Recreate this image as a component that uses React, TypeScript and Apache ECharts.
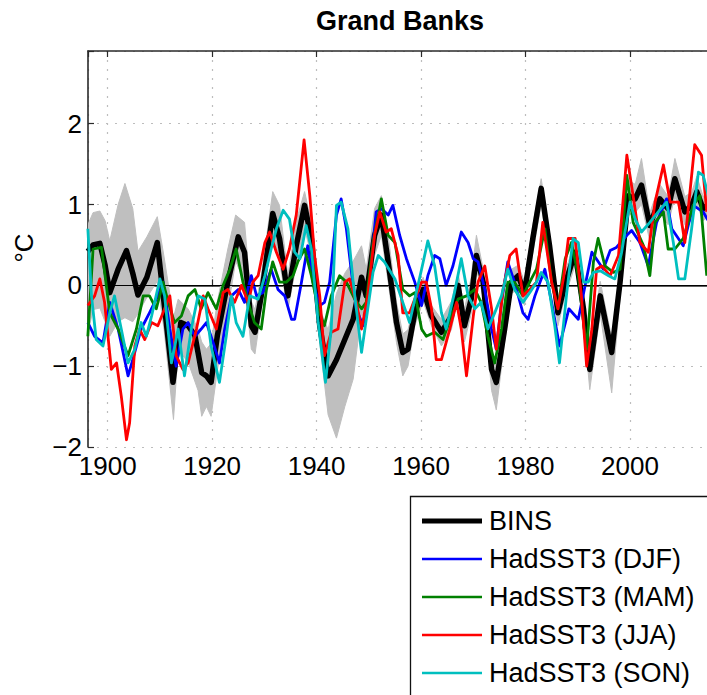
import { useEffect, useRef } from 'react';
import * as echarts from 'echarts';

// BINS reconstruction (annual), [year, anomaly °C]
const bins: [number, number][] = [
  [1896.2, 0.42], [1897.2, 0.5], [1898.5, 0.52], [1899.5, 0.25], [1900.4, -0.09], [1902.0, 0.2],
  [1903.6, 0.43], [1904.8, 0.15], [1905.8, -0.12], [1907.5, 0.1], [1909.5, 0.53], [1912.5, -1.2],
  [1914.0, -0.46], [1915.4, -0.5], [1916.7, -0.62], [1918.0, -1.08], [1918.9, -1.12], [1919.8, -1.2],
  [1921.0, -0.62], [1923.0, 0.04], [1925.0, 0.6], [1926.2, 0.41], [1927.5, -0.5], [1928.2, -0.58],
  [1929.4, -0.13], [1931.6, 0.89], [1932.9, 0.58], [1934.5, -0.13], [1936.1, 0.49], [1937.7, 0.99],
  [1939.0, 0.58], [1940.6, -0.5], [1942.2, -1.12], [1943.8, -0.92], [1945.4, -0.67], [1947.0, -0.42],
  [1948.6, 0.1], [1949.5, -0.13], [1951.1, 0.62], [1952.4, 0.87], [1953.7, 0.29], [1955.3, -0.46],
  [1956.5, -0.83], [1957.5, -0.79], [1958.8, -0.34], [1960.4, -0.05], [1962.0, -0.38], [1963.9, -0.58],
  [1965.8, -0.38], [1967.1, 0.0], [1968.3, -0.5], [1969.6, -0.17], [1970.6, 0.37], [1971.9, 0.04],
  [1973.5, -1.04], [1974.4, -1.2], [1976.0, -0.54], [1977.3, 0.04], [1978.6, 0.12], [1979.8, -0.09],
  [1981.4, 0.58], [1983.0, 1.2], [1984.6, 0.49], [1986.2, -0.34], [1987.5, 0.0], [1989.5, 0.41],
  [1991.1, -0.29], [1992.3, -1.04], [1994.3, -0.13], [1996.5, -0.83], [1998.1, 0.04], [1999.7, 1.11],
  [2001.0, 1.07], [2002.2, 1.24], [2003.8, 0.74], [2005.7, 1.07], [2007.3, 0.95], [2008.6, 1.32],
  [2010.5, 0.91], [2011.8, 0.99], [2012.8, 1.16], [2014.0, 0.95], [2015.0, 1.0],
];

// BINS uncertainty envelope
const bandYears = [
  1896.2, 1897.2, 1898.5, 1899.5, 1900.4, 1902.0, 1903.3, 1904.8, 1905.8, 1907.5, 1909.5, 1910.8,
  1912.6, 1913.5, 1915.4, 1917.3, 1918.0, 1918.9, 1919.8, 1921.0, 1923.0, 1924.5, 1926.2, 1927.5,
  1928.2, 1929.4, 1931.6, 1932.9, 1934.5, 1936.1, 1937.7, 1939.0, 1940.6, 1942.2, 1943.8, 1945.4,
  1947.0, 1948.6, 1949.5, 1951.1, 1952.4, 1953.7, 1955.3, 1956.5, 1957.5, 1958.8, 1960.4, 1962.0,
  1963.9, 1965.8, 1967.1, 1968.3, 1969.6, 1970.6, 1971.9, 1973.5, 1974.4, 1976.0, 1977.3, 1978.6,
  1979.8, 1981.4, 1983.0, 1984.6, 1986.2, 1987.5, 1989.5, 1991.1, 1992.3, 1994.3, 1996.5, 1998.1,
  1999.7, 2001.0, 2002.2, 2003.8, 2005.7, 2007.3, 2008.6, 2010.5, 2011.8, 2012.8, 2014.0, 2015.0,
];
const bandLow = [
  -0.6, -0.3, -0.28, -0.45, -0.63, -0.45, -0.4, -0.45, -0.35, -0.15, 0.05, -0.55,
  -1.66, -0.8, -0.95, -1.3, -1.62, -1.5, -1.62, -1.05, -0.3, 0.3, 0.04, -0.79,
  -0.85, -0.3, 0.62, 0.29, -0.3, 0.25, 0.7, 0.37, -0.71, -1.6, -1.89, -1.5,
  -1.16, -0.34, -0.46, 0.37, 0.62, 0.04, -0.71, -1.12, -1.0, -0.5, -0.2, -0.5,
  -0.75, -0.55, -0.15, -0.7, -0.35, 0.2, -0.15, -1.3, -1.54, -0.7, -0.1, -0.05,
  -0.25, 0.4, 1.0, 0.3, -0.5, -0.15, 0.25, -0.45, -1.29, -0.35, -1.33, -0.15,
  0.95, 0.9, 1.0, 0.55, 0.9, 0.75, 1.1, 0.75, 0.8, 1.0, 0.8, 0.85,
];
const bandHigh = [
  0.75, 0.9, 0.92, 0.8, 0.55, 1.0, 1.26, 0.95, 0.42, 0.6, 0.85, 0.35,
  -0.4, -0.17, -0.29, -0.54, -0.7, -0.79, -0.72, -0.2, 0.45, 0.87, 0.78, -0.2,
  -0.3, 0.12, 1.16, 0.99, 0.12, 0.8, 1.16, 0.78, -0.29, -0.55, -0.1, 0.15,
  0.3, 0.49, 0.2, 0.95, 1.11, 0.62, -0.21, -0.6, -0.55, -0.2, 0.1, -0.25,
  -0.42, -0.2, 0.15, -0.3, 0.1, 0.62, 0.2, -0.85, -1.0, -0.4, 0.2, 0.25,
  0.05, 0.75, 1.32, 0.65, -0.2, 0.15, 0.55, -0.15, -0.85, 0.05, -0.65, 0.2,
  1.3, 1.25, 1.57, 0.9, 1.25, 1.1, 1.57, 1.1, 1.15, 1.35, 1.1, 1.15,
];

// HadSST3 seasonal means, [year, anomaly °C]
const djf: [number, number][] = [
  [1896.2, -0.46], [1897.5, -0.63], [1899.1, -0.71], [1900.4, -0.21], [1902.0, -0.54], [1903.9, -1.12],
  [1904.8, -0.92], [1906.4, -0.54], [1908.0, -0.34], [1909.6, -0.13], [1910.6, 0.04], [1911.9, -0.54],
  [1913.1, -1.0], [1914.4, -0.54], [1915.4, -0.46], [1916.7, -0.63], [1917.9, -0.54], [1918.9, -0.46],
  [1920.2, -0.71], [1921.4, -0.96], [1922.4, -0.54], [1923.7, -0.13], [1925.0, -0.05], [1926.2, -0.21],
  [1927.5, 0.12], [1928.5, -0.13], [1929.7, -0.09], [1931.3, 0.2], [1932.6, -0.05], [1933.9, -0.13],
  [1935.2, -0.42], [1935.8, -0.42], [1937.1, 0.04], [1938.3, 0.49], [1939.3, 0.04], [1940.6, -0.25],
  [1941.5, -0.21], [1942.5, 0.04], [1943.8, 0.87], [1944.7, 1.07], [1945.7, 0.7], [1946.6, 0.2],
  [1947.6, -0.29], [1948.9, -0.5], [1949.8, -0.13], [1951.4, 0.91], [1952.4, 0.95], [1953.7, 0.87],
  [1954.6, 0.99], [1955.9, 0.62], [1957.2, 0.33], [1958.8, 0.04], [1960.1, -0.25], [1961.3, 0.12],
  [1962.6, 0.37], [1963.6, 0.33], [1964.8, 0.0], [1966.1, 0.24], [1967.7, 0.66], [1969.0, 0.53],
  [1970.0, 0.33], [1970.9, 0.29], [1972.2, -0.05], [1973.5, -0.54], [1974.4, -0.79], [1975.4, -0.21],
  [1976.6, 0.29], [1977.9, 0.04], [1979.5, -0.34], [1980.5, -0.42], [1981.8, -0.13], [1983.7, 0.2],
  [1985.0, -0.21], [1986.5, -0.75], [1988.3, -0.29], [1990.1, -0.42], [1992.7, 0.41], [1994.9, 0.2],
  [1996.2, 0.43], [1997.4, 0.47], [1999.4, 0.62], [2000.3, 0.68], [2001.9, 0.53], [2003.5, 0.24],
  [2005.1, 0.78], [2007.0, 1.07], [2008.0, 0.7], [2010.2, 0.49], [2012.1, 0.99], [2014.0, 0.91],
  [2015.0, 0.8],
];
const mam: [number, number][] = [
  [1896.2, -0.63], [1897.2, 0.45], [1898.8, 0.47], [1900.4, -0.34], [1902.0, -0.54], [1903.9, -0.87],
  [1905.5, -0.54], [1906.8, -0.13], [1908.0, -0.13], [1909.3, -0.29], [1910.6, 0.04], [1911.6, -0.21],
  [1912.8, -0.46], [1914.1, -0.38], [1915.4, -0.13], [1916.7, -0.05], [1917.9, -0.29], [1919.2, -0.09],
  [1920.8, -0.29], [1922.1, 0.0], [1923.4, 0.2], [1924.6, 0.45], [1925.9, 0.04], [1926.9, -0.21],
  [1928.1, -0.46], [1929.4, -0.54], [1930.4, -0.05], [1931.6, 0.29], [1932.9, 0.04], [1934.2, 0.04],
  [1935.5, 0.12], [1936.4, 0.29], [1937.7, 0.45], [1939.0, 0.12], [1940.3, -0.29], [1941.5, -0.5],
  [1942.8, -0.13], [1944.4, 0.12], [1945.7, 0.04], [1947.3, -0.17], [1948.6, -0.29], [1949.5, -0.21],
  [1950.8, 0.53], [1952.4, 1.07], [1953.7, 0.62], [1955.0, 0.53], [1956.5, -0.05], [1957.8, -0.13],
  [1958.8, -0.09], [1960.1, -0.54], [1961.0, -0.63], [1962.6, -0.58], [1964.2, -0.67], [1965.8, -0.38],
  [1967.1, -0.17], [1968.7, -0.13], [1970.3, -0.05], [1971.5, -0.21], [1972.8, -0.63], [1974.1, -0.96],
  [1975.4, -0.54], [1976.6, 0.04], [1977.9, 0.04], [1979.5, -0.13], [1980.8, 0.04], [1982.1, 0.2],
  [1983.7, 0.7], [1985.0, 0.04], [1986.2, -0.29], [1987.6, 0.33], [1988.8, 0.53], [1990.1, 0.12],
  [1991.7, -0.79], [1993.0, 0.29], [1993.9, 0.58], [1995.2, 0.24], [1996.8, 0.16], [1998.1, 0.2],
  [1999.4, 1.36], [2000.6, 0.78], [2002.6, 0.49], [2003.8, 0.12], [2004.8, 0.78], [2006.4, 0.91],
  [2007.3, 0.45], [2008.6, 0.45], [2010.2, 0.58], [2012.1, 0.99], [2013.4, 1.11], [2014.7, 0.12],
];
const jja: [number, number][] = [
  [1896.2, -0.25], [1897.5, -0.13], [1898.5, 0.08], [1899.4, -0.21], [1900.7, -1.04], [1901.7, -0.96],
  [1902.6, -1.37], [1903.6, -1.91], [1904.2, -1.7], [1905.2, -0.75], [1906.1, -0.54], [1907.1, -0.67],
  [1908.4, -0.46], [1909.6, -0.5], [1910.9, -0.29], [1911.9, -0.13], [1913.1, -0.87], [1914.4, -1.04],
  [1915.4, -0.96], [1917.0, -0.54], [1918.3, -0.13], [1919.2, -0.29], [1920.8, -0.54], [1922.1, -0.09],
  [1923.0, -0.05], [1924.3, -0.21], [1925.6, 0.0], [1926.9, -0.21], [1927.8, 0.04], [1928.8, 0.12],
  [1930.1, 0.53], [1931.0, 0.66], [1932.3, 0.41], [1933.6, 0.2], [1934.8, 0.45], [1936.1, 0.87],
  [1937.6, 1.8], [1938.7, 1.11], [1939.6, 0.37], [1940.6, -0.13], [1941.5, -0.87], [1942.8, -0.58],
  [1944.1, -0.54], [1945.4, 0.04], [1946.3, 0.08], [1947.6, -0.21], [1948.6, -0.54], [1949.8, -0.13],
  [1951.1, 0.62], [1952.1, 0.91], [1953.3, 0.66], [1954.3, 0.7], [1955.6, 0.37], [1956.5, -0.34],
  [1957.8, -0.34], [1958.8, -0.17], [1960.1, 0.04], [1961.0, 0.04], [1962.0, -0.29], [1962.9, -0.92],
  [1963.9, -0.92], [1965.5, -0.54], [1966.8, -0.21], [1967.7, -0.54], [1968.7, -1.12], [1970.0, -0.38],
  [1970.9, 0.04], [1972.2, 0.24], [1973.5, -0.29], [1974.4, -0.79], [1975.7, -0.05], [1977.0, 0.37],
  [1978.2, 0.45], [1979.5, -0.13], [1980.8, -0.05], [1982.1, 0.04], [1983.3, 0.78], [1985.0, 0.04],
  [1986.2, -0.29], [1987.3, 0.1], [1988.2, 0.58], [1989.5, 0.58], [1990.7, -0.13], [1991.7, -1.0],
  [1992.7, -0.54], [1993.6, 0.2], [1994.6, 0.24], [1996.2, 0.12], [1997.8, 0.37], [1999.4, 1.61],
  [2000.6, 1.11], [2001.9, 0.53], [2003.5, 0.41], [2004.8, 1.03], [2006.4, 1.49], [2007.7, 1.03],
  [2009.3, 1.03], [2010.5, 0.53], [2012.4, 1.74], [2013.7, 1.61], [2014.7, 0.91],
];
const son: [number, number][] = [
  [1896.2, 0.7], [1896.9, -0.13], [1897.8, -0.67], [1899.1, -0.75], [1900.4, -0.34], [1901.3, -0.13],
  [1902.6, -0.54], [1903.9, -0.96], [1905.2, -0.79], [1906.4, -0.46], [1907.4, -0.63], [1908.4, -0.38],
  [1910.0, 0.08], [1910.9, -0.13], [1912.2, -0.96], [1913.5, -0.54], [1914.7, -1.12], [1916.0, -0.54],
  [1917.3, -0.13], [1918.6, -0.17], [1919.8, -0.75], [1921.4, -1.2], [1922.7, -0.63], [1923.7, -0.13],
  [1924.6, -0.46], [1925.9, -0.63], [1927.2, -0.13], [1928.8, -0.17], [1930.1, 0.12], [1931.3, 0.45],
  [1932.3, 0.7], [1933.6, 0.93], [1934.8, 0.82], [1935.8, 0.41], [1936.8, 0.33], [1938.0, 0.74],
  [1939.0, 0.45], [1940.3, -0.46], [1941.7, -1.2], [1942.8, -0.54], [1943.8, 0.99], [1944.7, 1.03],
  [1946.0, 0.7], [1947.0, 0.04], [1948.6, -0.83], [1949.8, -0.29], [1950.8, 0.16], [1951.8, 0.37],
  [1953.0, 0.29], [1955.0, 0.08], [1956.5, -0.21], [1957.8, -0.46], [1958.8, -0.17], [1960.1, 0.2],
  [1961.3, 0.55], [1962.6, 0.24], [1963.9, -0.34], [1964.8, -0.54], [1966.4, -0.09], [1967.7, 0.33],
  [1969.0, -0.13], [1970.3, -0.29], [1971.5, -0.21], [1972.8, -0.54], [1974.1, -0.34], [1975.4, -0.13],
  [1976.6, 0.2], [1977.9, -0.05], [1979.5, -0.21], [1980.8, -0.09], [1982.1, 0.04], [1983.0, 0.16],
  [1984.3, 0.04], [1985.6, -0.5], [1986.5, -0.96], [1987.9, -0.09], [1989.1, 0.58], [1990.1, 0.53],
  [1991.1, 0.04], [1992.0, 0.04], [1993.0, 0.16], [1994.3, 0.18], [1995.9, 0.12], [1997.1, 0.08],
  [1998.4, 0.41], [2000.0, 1.03], [2001.0, 0.82], [2002.2, 0.66], [2003.8, 0.78], [2005.4, 0.91],
  [2007.0, 1.03], [2008.3, 0.53], [2009.3, 0.08], [2010.5, 0.08], [2011.8, 0.7], [2013.1, 1.4],
  [2014.0, 1.36], [2015.0, 1.11],
];

const seriesNames = ['BINS', 'HadSST3 (DJF)', 'HadSST3 (MAM)', 'HadSST3 (JJA)', 'HadSST3 (SON)'];
const seriesColors = ['#000000', '#0000ff', '#008000', '#ff0000', '#00bfbf'];
const seriesWidths = [5.5, 2.8, 2.8, 2.8, 2.8];
const seriesData = [bins, djf, mam, jja, son];

const FONT = '"Liberation Sans", Arial, Helvetica, sans-serif';
const AXIS_COLOR = '#2a2a2a';
const GRID_COLOR = '#bdbdbd';

function tickLabel(v: number): string {
  if (Math.abs(v - Math.round(v)) > 1e-6) return '';
  const r = Math.round(v);
  return r < 0 ? '\u2212' + Math.abs(r) : String(r);
}

export default function App() {
  const ref = useRef<HTMLDivElement>(null);

  useEffect(() => {
    if (!ref.current) return;
    const chart = echarts.init(ref.current, undefined, { renderer: 'svg' });

    const legendTop = 496;
    const legendStep = 38;
    const legendGraphics: any[] = [
      {
        type: 'rect',
        shape: { x: 410.5, y: legendTop + 0.5, width: 400, height: 300 },
        style: { fill: '#ffffff', stroke: '#111111', lineWidth: 1.3 },
        z: 10,
      },
    ];
    seriesNames.forEach((name, i) => {
      const cy = legendTop + 25 + i * legendStep;
      legendGraphics.push({
        type: 'line',
        shape: { x1: 422, y1: cy, x2: 482, y2: cy },
        style: { stroke: seriesColors[i], lineWidth: i === 0 ? 5 : 2.5 },
        z: 11,
      });
      legendGraphics.push({
        type: 'text',
        x: 489,
        y: cy,
        style: {
          text: name,
          fontFamily: FONT,
          fontSize: 27,
          fill: '#000',
          align: 'left',
          verticalAlign: 'middle',
        },
        z: 11,
      });
    });

    const option: any = {
      animation: false,
      backgroundColor: '#ffffff',
      grid: {
        left: 88,
        right: -3,
        top: 51,
        bottom: 248,
        containLabel: false,
        outerBoundsMode: 'none',
      },
      xAxis: [
        {
          type: 'value',
          min: 1896.23,
          max: 2015.32,
          splitNumber: 6,
          axisLine: { show: true, lineStyle: { color: AXIS_COLOR, width: 1.6 } },
          axisTick: { show: true, inside: true, length: 6, lineStyle: { color: AXIS_COLOR, width: 1.2 } },
          axisLabel: {
            show: true,
            margin: 6,
            fontFamily: FONT,
            fontSize: 26,
            color: '#000',
            formatter: (v: number) => (Math.abs(v % 20) < 1e-6 ? String(v) : ''),
          },
          splitLine: { show: true, lineStyle: { color: GRID_COLOR, width: 1.2, type: [2, 7] } },
        },
        {
          type: 'value',
          position: 'top',
          min: 1896.23,
          max: 2015.32,
          splitNumber: 6,
          axisLine: { show: true, lineStyle: { color: AXIS_COLOR, width: 1.6 } },
          axisTick: { show: true, inside: true, length: 6, lineStyle: { color: AXIS_COLOR, width: 1.2 } },
          axisLabel: { show: false },
          splitLine: { show: false },
        },
      ],
      yAxis: {
        type: 'value',
        min: -2,
        max: 2.9,
        interval: 1,
        axisLine: { show: true, lineStyle: { color: AXIS_COLOR, width: 1.6 } },
        axisTick: { show: true, inside: true, length: 6, lineStyle: { color: AXIS_COLOR, width: 1.2 } },
        axisLabel: {
          show: true,
          margin: 6,
          fontFamily: FONT,
          fontSize: 26,
          color: '#000',
          formatter: tickLabel,
        },
        splitLine: { show: true, lineStyle: { color: GRID_COLOR, width: 1.2, type: [2, 7] } },
      },
      graphic: [
        {
          type: 'text',
          x: 400,
          y: 21,
          style: {
            text: 'Grand Banks',
            fontFamily: FONT,
            fontSize: 27,
            fontWeight: 'bold',
            fill: '#000',
            align: 'center',
            verticalAlign: 'middle',
          },
        },
        {
          type: 'text',
          x: 24,
          y: 248,
          rotation: Math.PI / 2,
          style: {
            text: '°C',
            fontFamily: FONT,
            fontSize: 26,
            fill: '#000',
            align: 'center',
            verticalAlign: 'middle',
          },
        },
        ...legendGraphics,
      ],
      series: [
        {
          type: 'custom',
          name: 'BINS range',
          silent: true,
          clip: true,
          z: 1,
          data: [[bandYears[0], bandLow[0]]],
          renderItem: (_params: any, api: any) => {
            const upper = bandYears.map((yr, i) => api.coord([yr, bandHigh[i]]));
            const lower = bandYears.map((yr, i) => api.coord([yr, bandLow[i]])).reverse();
            return {
              type: 'polygon',
              shape: { points: upper.concat(lower) },
              style: { fill: '#bfbfbf', stroke: '#bfbfbf', lineWidth: 1 },
            };
          },
        },
        ...seriesData.map((data, i) => ({
          type: 'line',
          name: seriesNames[i],
          data,
          symbol: 'none',
          showSymbol: false,
          clip: true,
          silent: true,
          z: 3 + i,
          lineStyle: { color: seriesColors[i], width: seriesWidths[i], join: 'round' },
          itemStyle: { color: seriesColors[i] },
          markLine:
            i === 0
              ? {
                  silent: true,
                  symbol: 'none',
                  label: { show: false },
                  lineStyle: { color: '#000', width: 1, type: 'solid' },
                  data: [{ yAxis: 0 }],
                }
              : undefined,
        })),
      ],
    };

    chart.setOption(option);
    return () => chart.dispose();
  }, []);

  return (
    <div
      ref={ref}
      style={{ position: 'fixed', left: 0, top: 0, width: 707, height: 695, background: '#fff' }}
    />
  );
}
